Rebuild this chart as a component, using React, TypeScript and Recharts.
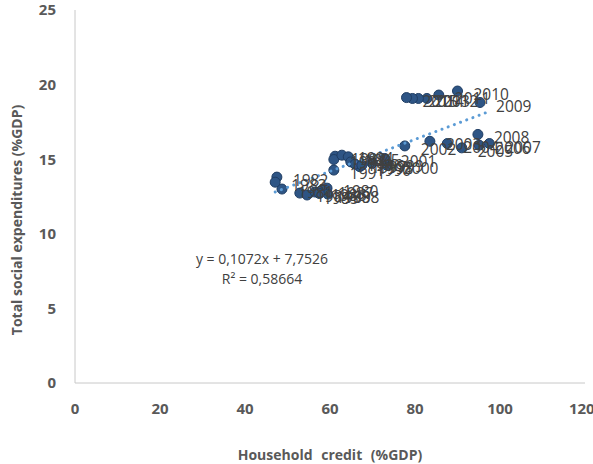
import { ScatterChart, Scatter, XAxis, YAxis, Customized } from 'recharts'

// years, household credit (%GDP) and total social expenditures (%GDP)
const years = [
  1980, 1981, 1982, 1983, 1984, 1985, 1986, 1987, 1988, 1989,
  1990, 1991, 1992, 1993, 1994, 1995, 1996, 1997, 1998, 1999, 2000, 2001,
  2002, 2003, 2004, 2005, 2006, 2007, 2008,
  2009, 2010, 2011, 2012, 2013, 2014, 2015,
]
const credit = [
  59.3, 48.7, 47.5, 47.1, 52.9, 54.6, 56.5, 58.1, 59.5, 57.5,
  67.0, 60.9, 61.2, 60.9, 62.8, 64.3, 64.9, 65.9, 67.5, 69.9, 73.4, 72.9,
  77.6, 83.5, 87.6, 91.0, 95.1, 97.5, 94.8,
  95.3, 90.0, 85.6, 82.8, 80.8, 79.4, 78.0,
]
const spending = [
  13.06, 13.0, 13.8, 13.46, 12.73, 12.6, 12.8, 12.93, 12.66, 12.7,
  14.5, 14.27, 15.2, 14.98, 15.27, 15.16, 14.82, 14.67, 14.6, 14.73, 14.6, 15.05,
  15.89, 16.2, 16.05, 15.76, 15.94, 16.05, 16.66,
  18.8, 19.57, 19.3, 19.07, 19.07, 19.07, 19.13,
]

const xTicks = [0, 20, 40, 60, 80, 100, 120]
const yTicks = [0, 5, 10, 15, 20, 25]

// linear trendline as printed on the chart
const slope = 0.1072
const intercept = 7.7526

const points = years.map((year, i) => ({ year, x: credit[i], y: spending[i] }))
const xMin = Math.min(...credit)
const xMax = Math.max(...credit)
const trend = [xMin, xMax].map((x) => ({ x, y: slope * x + intercept }))

const tickStyle = { fill: '#595959', fontSize: 15, fontWeight: 700, fontFamily: 'Open Sans' }

const Marker = (props: any) => (
  <circle cx={props.cx} cy={props.cy} r={5} fill="#2E5585" stroke="#1F3D63" strokeWidth={1} />
)

const YearLabel = (props: any) => (
  <text
    x={props.cx + 16}
    y={props.cy + 3}
    dominantBaseline="central"
    fill="#404040"
    fontSize={15.5}
    fontFamily="Open Sans"
  >
    {props.payload.year}
  </text>
)

const Titles = () => (
  <g fontFamily="Open Sans">
    <text x={262} y={258} textAnchor="middle" dominantBaseline="central" fill="#404040" fontSize={14}>
      y = 0,1072x + 7,7526
    </text>
    <text x={262} y={278} textAnchor="middle" dominantBaseline="central" fill="#404040" fontSize={14}>
      R² = 0,58664
    </text>
    <text
      x={330}
      y={454}
      textAnchor="middle"
      dominantBaseline="central"
      fill="#595959"
      fontSize={14}
      fontWeight={700}
      wordSpacing={5}
    >
      Household credit (%GDP)
    </text>
    <text
      x={16}
      y={220}
      transform="rotate(-90 16 220)"
      textAnchor="middle"
      dominantBaseline="central"
      fill="#595959"
      fontSize={14}
      fontWeight={700}
    >
      Total social expenditures (%GDP)
    </text>
  </g>
)

export default function App() {
  return (
    <div style={{ position: 'absolute', left: 0, top: 0, width: 593, height: 464, background: '#fff' }}>
      <ScatterChart width={593} height={464} margin={{ top: 10, right: 8, left: 15, bottom: 51 }}>
        <XAxis
          type="number"
          dataKey="x"
          domain={[0, 120]}
          ticks={xTicks}
          height={30}
          tick={tickStyle}
          tickLine={false}
          tickMargin={14}
          axisLine={{ stroke: '#C8C8C8' }}
          allowDataOverflow
        />
        <YAxis
          type="number"
          dataKey="y"
          domain={[0, 25]}
          ticks={yTicks}
          width={60}
          tick={tickStyle}
          tickLine={false}
          tickMargin={13}
          axisLine={{ stroke: '#C8C8C8' }}
        />
        <Scatter data={points} shape={Marker} isAnimationActive={false} />
        <Scatter
          data={trend}
          shape={() => <g />}
          line={{ stroke: '#5B9BD5', strokeWidth: 3, strokeDasharray: '0.1 6.5', strokeLinecap: 'round' }}
          lineType="joint"
          isAnimationActive={false}
        />
        <Scatter data={points} shape={YearLabel} isAnimationActive={false} />
        <Customized component={Titles} />
      </ScatterChart>
    </div>
  )
}
